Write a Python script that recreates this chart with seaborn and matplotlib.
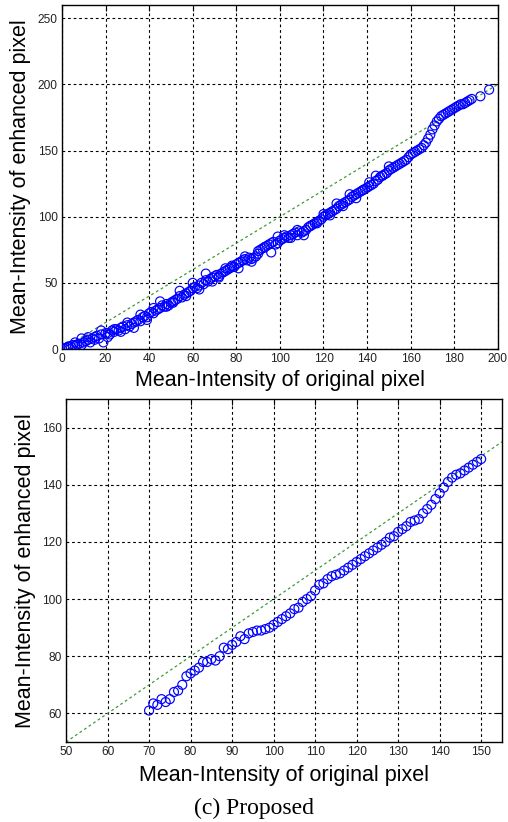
import numpy as np
import seaborn as sns
import matplotlib
matplotlib.use("Agg")
import matplotlib.pyplot as plt

# ---- top panel data (original vs enhanced mean intensity) ----
top_x = list(range(0, 189)) + [192, 196]
top_y = [0, 0.5, 1, 1.5, 2, 3, 2.5, 3.5, 4, 8, 5,
         6, 7, 5, 8, 9, 10, 8, 11, 5, 12,
         12, 11, 14, 13, 15, 14, 16, 17, 15, 18,
         17, 19, 20, 21, 22, 21, 24, 25, 24, 27,
         28, 27, 29, 30, 31, 33, 32, 34, 33, 35,
         36, 37, 38, 40, 39, 41, 42, 43, 44, 46,
         47, 46, 48, 50, 49, 52, 51, 53, 54, 55,
         56, 55, 57, 58, 59, 60, 61, 63, 62, 64,
         65, 66, 67, 68, 67, 69, 68, 69, 70, 72,
         75, 76, 77, 78, 79, 80, 81, 79, 80, 82,
         83, 84, 85, 84, 86, 87, 88, 86, 89, 88,
         89, 90, 92, 93, 94, 95, 96, 97, 98, 100,
         101, 102, 103, 104, 105, 106, 108, 109, 110, 111,
         112, 113, 115, 116, 117, 118, 119, 120, 121, 122,
         123, 124, 125, 127, 128, 130, 131, 132, 133, 135,
         136, 137, 138, 139, 140, 141, 142, 143, 145, 147,
         148, 149, 150, 151, 152, 154, 156, 159, 162, 166,
         169, 172, 174, 176, 177, 178, 179, 180, 181, 182,
         183, 184, 185, 185, 186, 187, 188, 189,
         191, 196]
# extra scattered samples around the main band
extra_x = [3, 6, 9, 12, 15, 18, 21, 24, 27, 30, 33, 36, 39, 42, 45, 48, 51,
           54, 57, 60, 63, 66, 69, 72, 75, 78, 81, 84, 87, 90, 93, 96, 99,
           102, 105, 108, 111, 114, 117, 120, 123, 126, 129, 132, 135, 138,
           141, 144, 147, 150]
extra_y = [2, 5, 3, 9, 7, 14, 9, 15, 13, 20, 16, 26, 22, 31, 36, 32, 35,
           44, 40, 50, 45, 57, 51, 54, 61, 62, 61, 70, 66, 74, 77, 73, 85,
           86, 84, 90, 86, 93, 95, 102, 101, 110, 108, 117, 114, 120, 126,
           131, 131, 138]

# ---- bottom panel data ----
bot_x = list(range(70, 151))
bot_y = [61, 63.5, 63, 65, 64, 65, 67.5, 68, 70, 73,
         74, 75, 76, 78, 78, 79, 78.5, 80, 83, 82.5,
         84, 85, 87, 86, 88, 88.5, 89, 89, 89.5, 90,
         91, 92, 93, 94, 95, 96.5, 97, 99, 100, 101,
         103, 105, 105.5, 107, 108, 108.5, 109, 110, 111, 112,
         113, 114, 115, 116, 117, 118, 119, 120, 121.5, 122,
         123.5, 124.5, 125.5, 127, 127.5, 128, 130, 131.5, 133, 135,
         137, 139, 141, 142.5, 143.5, 144, 145, 146, 147, 148,
         149]

top_diag = [0, 200]
bot_diag = [50, 155]

sns.set_style("white")
plt.rcParams["font.family"] = ["Liberation Sans", "DejaVu Sans"]
plt.rcParams["text.color"] = "black"
plt.rcParams["axes.labelcolor"] = "black"

fig = plt.figure(figsize=(5.08, 8.22), dpi=100)
ax1 = fig.add_axes([0.122, 0.5754, 0.858, 0.4185])
ax2 = fig.add_axes([0.130, 0.0973, 0.858, 0.4173])

grid_kw = dict(color="k", linestyle=(0, (2.5, 2.5)), linewidth=0.8)
label = 15.5


def style_axes(ax, xlim, ylim, xt, yt, ylab_x, xlab_y):
    ax.set_xlim(*xlim)
    ax.set_ylim(*ylim)
    ax.set_xticks(xt)
    ax.set_yticks(yt)
    ax.grid(True, **grid_kw)
    ax.set_axisbelow(True)
    ax.tick_params(direction="in", top=True, right=True, length=4,
                   width=0.8, color="k", labelsize=8.6, labelcolor="#222222",
                   pad=3)
    for s in ax.spines.values():
        s.set_color("k")
        s.set_linewidth(1.0)
    ax.set_xlabel("Mean-Intensity of original pixel", fontsize=label)
    ax.set_ylabel("Mean-Intensity of enhanced pixel", fontsize=label)
    ax.yaxis.set_label_coords(ylab_x, 0.5)
    ax.xaxis.set_label_coords(0.5, xlab_y)


for ax, dx, xs, ys in [(ax1, top_diag, [top_x, extra_x], [top_y, extra_y]),
                        (ax2, bot_diag, [bot_x], [bot_y])]:
    ax.plot(dx, dx, color="#3c9a3c", linestyle=(0, (2.2, 2.2)), linewidth=0.9,
            zorder=2)
    for x, y in zip(xs, ys):
        sns.scatterplot(x=x, y=y, ax=ax, s=42, marker="o", facecolor="none",
                        edgecolor="#0000ff", linewidth=0.85, zorder=3)

style_axes(ax1, (0, 200), (0, 260), np.arange(0, 201, 20),
           np.arange(0, 251, 50), -0.07, -0.06)
style_axes(ax2, (50, 155), (50, 170), np.arange(50, 151, 10),
           np.arange(60, 161, 20), -0.07, -0.066)

fig.text(0.5, 1 - 808 / 822, "(c) Proposed", ha="center", va="center",
         fontsize=17, family=["Liberation Serif", "DejaVu Serif"])

fig.savefig("out.png", dpi=100)
